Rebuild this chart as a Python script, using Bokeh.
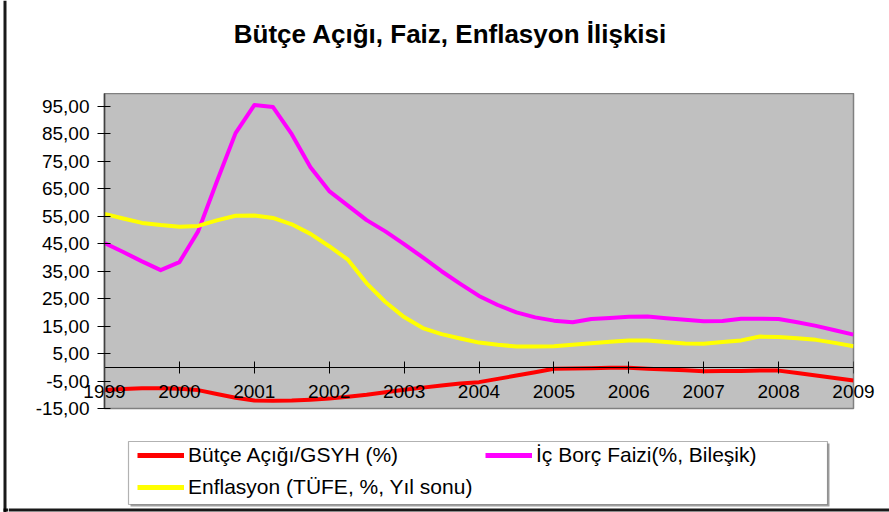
from bokeh.plotting import figure
from bokeh.models import (Range1d, FixedTicker, Legend, LegendItem, BoxAnnotation,
                          LinearAxis, Label)
from bokeh.layouts import row, column
from bokeh.embed import file_html
from bokeh.resources import INLINE

title_text = "Bütçe Açığı, Faiz, Enflasyon İlişkisi"

periods = [1999.0, 1999.25, 1999.5, 1999.75, 2000.0, 2000.25, 2000.5, 2000.75,
           2001.0, 2001.25, 2001.5, 2001.75, 2002.0, 2002.25, 2002.5, 2002.75,
           2003.0, 2003.25, 2003.5, 2003.75, 2004.0, 2004.25, 2004.5, 2004.75,
           2005.0, 2005.25, 2005.5, 2005.75, 2006.0, 2006.25, 2006.5, 2006.75,
           2007.0, 2007.25, 2007.5, 2007.75, 2008.0, 2008.25, 2008.5, 2008.75,
           2009.0]

butce_acigi = [-8.3, -7.9, -7.6, -7.6, -7.8, -8.3, -9.7, -11.1,
               -12.1, -12.2, -12.1, -11.8, -11.4, -10.7, -10.0, -9.1,
               -8.2, -7.4, -6.6, -5.9, -5.4, -4.2, -3.0, -1.8,
               -0.5, -0.4, -0.3, -0.2, -0.2, -0.5, -0.8, -1.1,
               -1.4, -1.3, -1.3, -1.2, -1.2, -2.1, -3.0, -3.9,
               -4.8]

ic_borc_faizi = [45.3, 42.0, 38.6, 35.4, 38.3, 49.5, 67.7, 85.3,
                 95.5, 94.8, 84.9, 72.9, 64.2, 58.9, 53.6, 49.5,
                 44.9, 40.0, 35.0, 30.4, 26.0, 22.7, 20.0, 18.2,
                 17.0, 16.4, 17.6, 18.0, 18.4, 18.5, 17.9, 17.3,
                 16.8, 16.9, 17.7, 17.7, 17.6, 16.4, 15.1, 13.5,
                 11.9]

enflasyon = [55.9, 54.2, 52.6, 51.8, 51.2, 51.5, 53.5, 55.2,
             55.3, 54.4, 52.1, 48.6, 44.1, 39.2, 30.6, 23.8,
             18.3, 14.3, 12.1, 10.5, 9.0, 8.2, 7.6, 7.6,
             7.7, 8.2, 8.8, 9.3, 9.8, 9.8, 9.2, 8.7,
             8.6, 9.2, 9.8, 11.2, 11.0, 10.6, 10.0, 8.9,
             7.7]

year_ticks = [1999, 2000, 2001, 2002, 2003, 2004, 2005, 2006, 2007, 2008, 2009]
year_labels = ["1999", "2000", "2001", "2002", "2003", "2004", "2005", "2006", "2007", "2008", "2009"]
y_ticks = [-15, -5, 5, 15, 25, 35, 45, 55, 65, 75, 85, 95]
y_labels = ["-15,00", "-5,00", "5,00", "15,00", "25,00", "35,00", "45,00", "55,00",
            "65,00", "75,00", "85,00", "95,00"]

series_names = ["Bütçe Açığı/GSYH (%)", "İç Borç Faizi(%, Bileşik)", "Enflasyon (TÜFE, %, Yıl sonu)"]
series_colors = ["#FF0000", "#FF00FF", "#FFFF00"]

FONT = "Liberation Sans"


def blank_strip(w, h, x0, y0):
    f = figure(width=w, height=h, x_range=Range1d(x0, x0 + w), y_range=Range1d(y0 + h, y0),
               output_backend="svg", toolbar_location=None, title=None,
               x_axis_type=None, y_axis_type=None,
               min_border=0, min_border_left=0, min_border_right=0,
               min_border_top=0, min_border_bottom=0,
               background_fill_color="white", border_fill_color="white")
    f.frame_align = False
    f.grid.visible = False
    f.outline_line_color = None
    return f


# ---------------- title strip (page coordinates) ----------------
tf = blank_strip(881, 93, 8, 0)
tf.add_layout(Label(x=450, y=33, text=title_text, text_align="center",
                    text_baseline="alphabetic", text_font=FONT, text_font_size="26px",
                    text_font_style="bold", text_color="black"))

# ---------------- main chart ----------------
p = figure(width=881, height=337, title=None,
           x_range=Range1d(1999, 2009), y_range=Range1d(-15, 99.73),
           output_backend="svg", toolbar_location=None,
           min_border_left=96, min_border_right=36, min_border_top=0, min_border_bottom=22,
           background_fill_color="#C0C0C0", border_fill_color="white")
p.frame_align = False

p.grid.visible = False
p.outline_line_color = "#808080"
p.outline_line_width = 1.5

# label-only x axis (labels pulled up into the plot area)
xa = p.xaxis[0]
xa.ticker = FixedTicker(ticks=year_ticks)
xa.major_label_overrides = {t: l for t, l in zip(year_ticks, year_labels)}
xa.axis_line_color = None
xa.major_tick_line_color = None
xa.major_tick_in = 0
xa.major_tick_out = 0
xa.minor_tick_line_color = None
xa.major_label_text_font = FONT
xa.major_label_text_font_size = "19px"
xa.major_label_text_color = "black"
xa.major_label_standoff = -24

# axis line + ticks crossing at 0
xz = LinearAxis(ticker=FixedTicker(ticks=year_ticks), fixed_location=0)
xz.axis_line_color = "black"
xz.axis_line_width = 1
xz.major_tick_line_color = "black"
xz.major_tick_in = 6
xz.major_tick_out = 6
xz.minor_tick_line_color = None
xz.major_label_text_alpha = 0
xz.major_label_text_font_size = "1px"
p.add_layout(xz, "below")

ya = p.yaxis[0]
ya.ticker = FixedTicker(ticks=y_ticks)
ya.major_label_overrides = {t: l for t, l in zip(y_ticks, y_labels)}
ya.axis_line_color = "#404040"
ya.axis_line_width = 1.5
ya.major_tick_line_color = "black"
ya.major_tick_in = 6
ya.major_tick_out = 7
ya.minor_tick_line_color = None
ya.major_label_text_font = FONT
ya.major_label_text_font_size = "19px"
ya.major_label_text_color = "black"
ya.major_label_standoff = 8

p.line(periods, butce_acigi, line_color=series_colors[0], line_width=4, line_join="round")
p.line(periods, ic_borc_faizi, line_color=series_colors[1], line_width=4, line_join="round")
p.line(periods, enflasyon, line_color=series_colors[2], line_width=4, line_join="round")

# ---------------- legend strip (x: page - 8, y: page - 430) ----------------
lg = blank_strip(881, 82, 0, 0)

# legend renderers (same series; they lie outside this strip's visible range)
l_b = lg.line(periods, butce_acigi, line_color=series_colors[0], line_width=5)
l_f = lg.line(periods, ic_borc_faizi, line_color=series_colors[1], line_width=5)
l_e = lg.line(periods, enflasyon, line_color=series_colors[2], line_width=5)

lg.add_layout(BoxAnnotation(left=122, right=821, top=13, bottom=76,
                            fill_color="#a0a0a0", fill_alpha=1, line_alpha=0))
lg.add_layout(BoxAnnotation(left=120, right=819, top=11, bottom=74,
                            fill_color="white", fill_alpha=1,
                            line_color="black", line_width=1.2))
lg.add_layout(BoxAnnotation(left=0, right=881, top=78, bottom=81,
                            fill_color="black", fill_alpha=0.9, line_alpha=0))


def style_legend(leg):
    leg.glyph_width = 47
    leg.glyph_height = 24
    leg.label_height = 24
    leg.label_standoff = 4
    leg.padding = 4
    leg.spacing = 8
    leg.margin = 0
    leg.border_line_alpha = 0
    leg.background_fill_alpha = 0
    leg.label_text_font = FONT
    leg.label_text_font_size = "21px"
    leg.label_text_color = "black"


leg_a = Legend(items=[LegendItem(label=series_names[0], renderers=[l_b]),
                      LegendItem(label=series_names[2], renderers=[l_e])],
               location=(125, 9), orientation="vertical")
style_legend(leg_a)
leg_b = Legend(items=[LegendItem(label=series_names[1], renderers=[l_f])],
               location=(473, 41), orientation="vertical")
style_legend(leg_b)
lg.add_layout(leg_a, "center")
lg.add_layout(leg_b, "center")

# ---------------- left border strip ----------------
edge = blank_strip(8, 512, 0, 0)
edge.add_layout(BoxAnnotation(left=3, right=6, top=0, bottom=512,
                              fill_color="black", fill_alpha=0.9, line_alpha=0))
edge.add_layout(BoxAnnotation(left=3, right=8, top=508, bottom=511,
                              fill_color="black", fill_alpha=0.9, line_alpha=0))

layout = row(edge, column(tf, p, lg, spacing=0), spacing=0)

open("out.html", "w").write(file_html(layout, INLINE))
